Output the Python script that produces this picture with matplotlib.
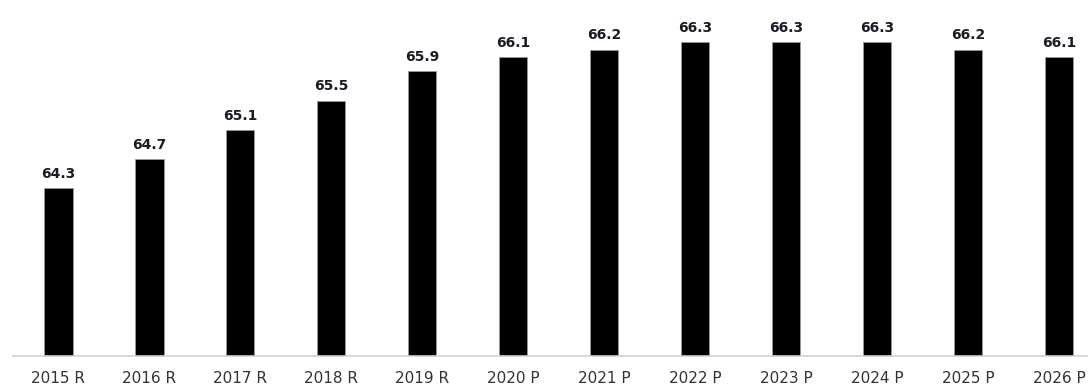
import matplotlib
matplotlib.use("Agg")
from matplotlib import pyplot as plt

years = ['2015 R', '2016 R', '2017 R', '2018 R', '2019 R', '2020 P',
         '2021 P', '2022 P', '2023 P', '2024 P', '2025 P', '2026 P']
values = [64.3, 64.7, 65.1, 65.5, 65.9, 66.1, 66.2, 66.3, 66.3, 66.3, 66.2, 66.1]

fig = plt.figure(figsize=(10.88, 3.86), dpi=100)
ax = fig.add_axes([13/1088, 30/386, 1 - 13/1088, 1 - 30/386])

x = range(len(years))
ax.bar(x, values, width=0.31, color='black', edgecolor='#9a9a9a', linewidth=0.6)

for xi, v in zip(x, values):
    ax.text(xi, v + 0.1, f'{v:.1f}', ha='center', va='bottom',
            fontsize=10, fontweight='bold', color='#1b1b26')

ax.set_ylim(62, 66.88)
ax.set_xlim(-0.5, 11.32)
ax.set_xticks(list(x))
ax.set_xticklabels(years, fontsize=11, color='#333333')
ax.tick_params(axis='x', length=0, pad=11)
ax.set_yticks([])
for s in ['top', 'right', 'left']:
    ax.spines[s].set_visible(False)
ax.spines['bottom'].set_color('#d0d0d0')
ax.spines['bottom'].set_linewidth(1.2)

plt.savefig('out.png', dpi=100)
